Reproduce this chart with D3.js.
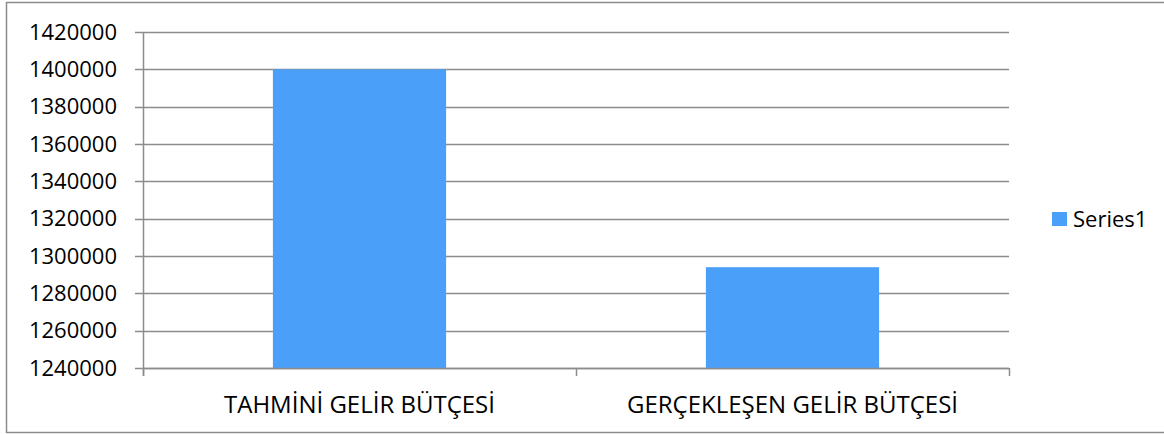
<!DOCTYPE html>
<html>
<head>
<meta charset="utf-8">
<script src="https://cdn.jsdelivr.net/npm/d3@7"></script>
<style>
  body { margin: 0; background: #fff; }
  text { font-family: "Open Sans", sans-serif; fill: #000; }
</style>
</head>
<body>
<div id="vis"></div>
<script>
// data
var categories = ["TAHMİNİ GELİR BÜTÇESİ", "GERÇEKLEŞEN GELİR BÜTÇESİ"];
var series1 = [1400000, 1294000];
var yTicks = [1240000, 1260000, 1280000, 1300000, 1320000, 1340000, 1360000, 1380000, 1400000, 1420000];
var seriesName = "Series1";

var margin = { top: 32, bottom: 66, left: 143, right: 155 };
var width = 1164 - margin.left - margin.right;
var height = 434 - margin.top - margin.bottom;

var root = d3.select("#vis")
    .append("svg")
    .attr("width", 1164)
    .attr("height", 434);

// outer frame
root.append("rect")
    .attr("x", 6.5)
    .attr("y", 2.5)
    .attr("width", 1170)
    .attr("height", 430)
    .attr("fill", "none")
    .attr("stroke", "#8c8c8c")
    .attr("stroke-width", 1.5);

var svg = root.append("g")
    .attr("transform", "translate(" + margin.left + "," + margin.top + ")");

var x_scale = d3.scaleBand()
    .domain(categories)
    .range([0, width])
    .paddingInner(0.6)
    .paddingOuter(0.3);

var y_scale = d3.scaleLinear()
    .domain([1240000, 1420000])
    .range([height, 0]);

// gridlines
svg.append("g")
    .selectAll("line")
    .data(yTicks)
    .enter()
    .append("line")
    .attr("x1", -8)
    .attr("x2", width)
    .attr("y1", function (d) { return Math.round(y_scale(d)) + 0.5; })
    .attr("y2", function (d) { return Math.round(y_scale(d)) + 0.5; })
    .attr("stroke", "#8c8c8c")
    .attr("stroke-width", 1.5);

// bars
svg.selectAll(".bar")
    .data(series1)
    .enter()
    .append("rect")
    .attr("class", "bar")
    .attr("x", function (d, i) { return x_scale(categories[i]); })
    .attr("width", x_scale.bandwidth())
    .attr("y", function (d) { return y_scale(d); })
    .attr("height", function (d) { return height - y_scale(d); })
    .attr("fill", "#4a9ff9");

// y axis
var y_axis = d3.axisLeft(y_scale)
    .tickValues(yTicks)
    .tickSize(0)
    .tickPadding(26)
    .tickFormat(d3.format("d"));

svg.append("g")
    .attr("class", "y axis")
    .call(y_axis)
    .call(function (g) { g.select(".domain").remove(); })
    .selectAll("text")
    .style("font-size", "22px")
    .attr("fill", "#000");

svg.append("line")
    .attr("x1", 0.5).attr("x2", 0.5)
    .attr("y1", 0).attr("y2", height + 8)
    .attr("stroke", "#8c8c8c")
    .attr("stroke-width", 1.5);

// x axis line and ticks
svg.append("line")
    .attr("x1", 0).attr("x2", width)
    .attr("y1", height + 0.5).attr("y2", height + 0.5)
    .attr("stroke", "#8c8c8c")
    .attr("stroke-width", 1.5);

var xEdges = [0, width / 2, width];
svg.append("g")
    .selectAll("line")
    .data(xEdges)
    .enter()
    .append("line")
    .attr("x1", function (d) { return d + 0.5; })
    .attr("x2", function (d) { return d + 0.5; })
    .attr("y1", height)
    .attr("y2", height + 8)
    .attr("stroke", "#8c8c8c")
    .attr("stroke-width", 1.5);

svg.append("g")
    .selectAll("text")
    .data(categories)
    .enter()
    .append("text")
    .attr("x", function (d) { return x_scale(d) + x_scale.bandwidth() / 2; })
    .attr("y", height + 45)
    .attr("text-anchor", "middle")
    .style("font-size", "24px")
    .text(function (d) { return d; });

// legend
var legend = root.append("g")
    .attr("transform", "translate(1052,212)");

legend.append("rect")
    .attr("width", 15)
    .attr("height", 14)
    .attr("fill", "#4a9ff9");

legend.append("text")
    .attr("x", 21)
    .attr("y", 15)
    .style("font-size", "22px")
    .text(seriesName);
</script>
</body>
</html>
